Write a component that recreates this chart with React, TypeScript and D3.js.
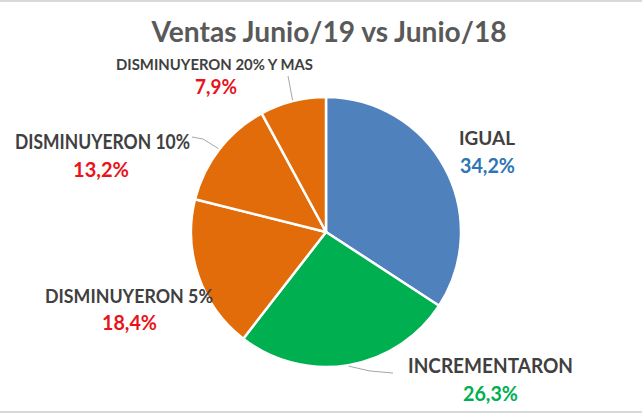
import React from "react";
import * as d3 from "d3";

const categories = ["IGUAL", "INCREMENTARON", "DISMINUYERON 5%", "DISMINUYERON 10%", "DISMINUYERON 20% Y MAS"];
const values = [34.2, 26.3, 18.4, 13.2, 7.9];
const sliceColors = ["#4F81BD", "#00B050", "#E36C0A", "#E36C0A", "#E36C0A"];
const pctColors = ["#2E75B6", "#00B050", "#E8141B", "#E8141B", "#E8141B"];
const title = "Ventas Junio/19 vs Junio/18";

// label layout: name box (x0,x1,baseline,size), pct box (x0,x1,baseline,size)
const labelLayout = [
  { n: [459, 515, 145, 19], p: [460, 515, 173, 20], leader: null },
  { n: [408, 573, 373, 20], p: [463, 518, 401, 20], leader: [[370, 371], [393, 373]] },
  { n: [45, 213, 303, 19], p: [102, 157, 330, 21], leader: null },
  { n: [15, 190, 149, 20], p: [73, 129, 177, 21], leader: [[203, 139], [192, 137]] },
  { n: [116, 313, 70, 15], p: [195, 237, 94, 20], leader: [[288, 76]] },
];

const W = 642, H = 417;
const cx = 326, cy = 232, R = 135;
const FONT = "Lato, 'Open Sans', sans-serif";

export default function App() {
  const pie = d3.pie<number>().sort(null).value((d) => d);
  const arcs = pie(values);
  const arcGen = d3.arc<d3.PieArcDatum<number>>().innerRadius(0).outerRadius(R);
  const fmt = (v: number) => v.toFixed(1).replace(".", ",") + "%";
  const lineGen = d3.line();

  return (
    <svg width={W} height={H} style={{ position: "absolute", left: 0, top: 0, background: "#fff" }}>
      <rect x={0} y={0} width={W} height={H} fill="#fff" />
      <rect x={0} y={0} width={W} height={2} fill="#d9d9d9" />
      <rect x={0} y={411} width={W} height={2} fill="#d9d9d9" />
      <text x={329} y={42} textAnchor="middle" fontFamily={FONT} fontWeight="bold" fontSize={29} fill="#595959" textLength={355} lengthAdjust="spacingAndGlyphs">
        {title}
      </text>
      <g transform={`translate(${cx},${cy})`}>
        {arcs.map((a, i) => (
          <path key={i} d={arcGen(a) || ""} fill={sliceColors[i]} stroke="#fff" strokeWidth={2.5} strokeLinejoin="round" />
        ))}
      </g>
      {arcs.map((a, i) => {
        const L = labelLayout[i];
        if (!L.leader) return null;
        const mid = (a.startAngle + a.endAngle) / 2;
        const start: [number, number] = [cx + (R + 1) * Math.sin(mid), cy - (R + 1) * Math.cos(mid)];
        const pts = [start, ...(L.leader as [number, number][])];
        return <path key={"l" + i} d={lineGen(pts) || ""} fill="none" stroke="#a6a6a6" strokeWidth={1} />;
      })}
      {categories.map((c, i) => {
        const L = labelLayout[i];
        const [nx0, nx1, nb, ns] = L.n;
        const [px0, px1, pb, ps] = L.p;
        return (
          <g key={"t" + i} fontFamily={FONT} fontWeight="bold">
            <text x={(nx0 + nx1) / 2} y={nb} textAnchor="middle" fontSize={ns} fill="#404040" textLength={nx1 - nx0} lengthAdjust="spacingAndGlyphs">
              {c}
            </text>
            <text x={(px0 + px1) / 2} y={pb} textAnchor="middle" fontSize={ps} fill={pctColors[i]} textLength={px1 - px0} lengthAdjust="spacingAndGlyphs">
              {fmt(values[i])}
            </text>
          </g>
        );
      })}
    </svg>
  );
}
